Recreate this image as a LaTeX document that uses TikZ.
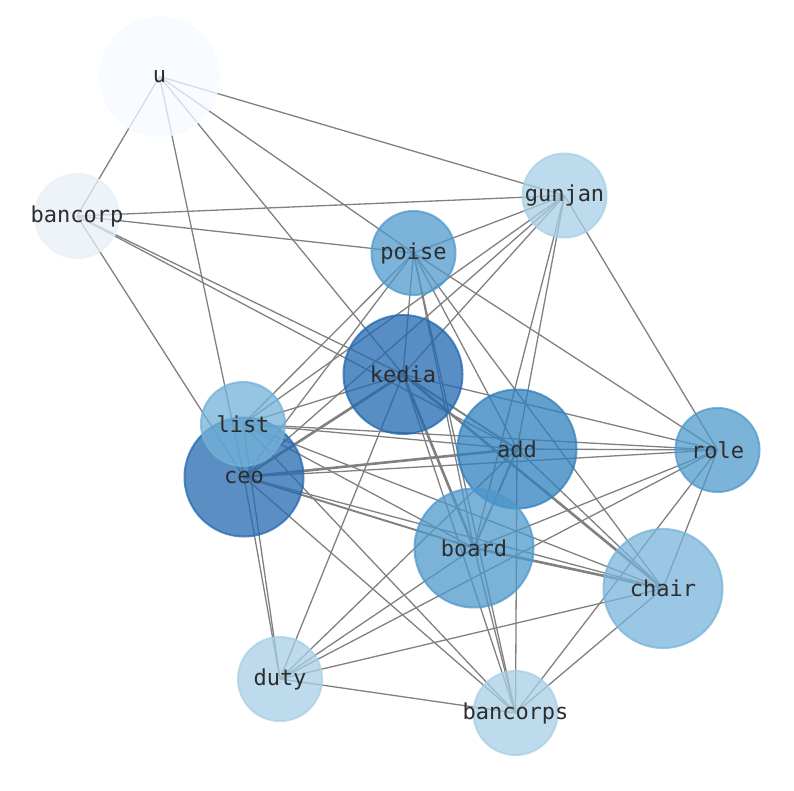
\documentclass[tikz,border=0pt]{standalone}
\usepackage{fontspec}
\setmonofont{DejaVu Sans Mono}
\definecolor{cU}{RGB}{246,250,255}
\definecolor{cBancorp}{RGB}{232,239,248}
\definecolor{cLight}{RGB}{167,207,229}
\definecolor{cList}{RGB}{115,178,216}
\definecolor{cChair}{RGB}{120,180,217}
\definecolor{cPoise}{RGB}{80,153,204}
\definecolor{cBoard}{RGB}{78,152,203}
\definecolor{cAdd}{RGB}{48,128,190}
\definecolor{cKedia}{RGB}{33,104,176}
\definecolor{cCeo}{RGB}{36,106,176}
\definecolor{edgegray}{RGB}{128,128,128}
\definecolor{labelgray}{RGB}{45,45,45}
\newcommand{\zlabel}[1]{\makebox[0pt]{#1}}
\begin{document}
\begin{tikzpicture}[x=1pt,y=-1pt,
  vertex/.style={circle,inner sep=0pt,line width=2pt,fill opacity=0.75,draw opacity=0.75,
    text opacity=1,text=labelgray,font=\ttfamily\fontsize{22}{26}\selectfont},
  big/.style={vertex,minimum size=119pt},
  small/.style={vertex,minimum size=84pt},
  link/.style={draw=edgegray,line width=1.3pt},
  heavy/.style={draw=edgegray,line width=2.6pt},
  mid/.style={draw=edgegray,line width=1.9pt}]
\useasboundingbox (0,0) rectangle (794,790);
% coordinates of centres
\coordinate (pu) at (159.5,76.5);
\coordinate (pbancorp) at (77,216);
\coordinate (pgunjan) at (564.5,195.5);
\coordinate (ppoise) at (413.5,253);
\coordinate (pkedia) at (403,374.5);
\coordinate (plist) at (243,424);
\coordinate (pceo) at (244,477);
\coordinate (padd) at (517,449);
\coordinate (prole) at (717.5,450);
\coordinate (pboard) at (474,548);
\coordinate (pchair) at (663,588.5);
\coordinate (pduty) at (280,679);
\coordinate (pbancorps) at (515.5,713);
% edges
\begin{scope}
\foreach \a/\b/\s in {
 u/bancorp/link, u/ceo/link, u/kedia/link, u/poise/link, u/gunjan/link,
 bancorp/gunjan/link, bancorp/poise/link, bancorp/ceo/link, bancorp/kedia/link, bancorp/add/link,
 gunjan/poise/link, gunjan/kedia/link, gunjan/list/link, gunjan/ceo/link, gunjan/add/link, gunjan/board/link, gunjan/role/link,
 poise/kedia/link, poise/list/link, poise/ceo/link, poise/add/link, poise/board/link, poise/bancorps/link, poise/chair/link, poise/role/link,
 kedia/list/link, kedia/ceo/heavy, kedia/add/mid, kedia/role/link, kedia/chair/heavy, kedia/board/heavy, kedia/bancorps/link, kedia/duty/link,
 list/add/link, list/role/link, list/board/link, list/chair/link, list/bancorps/link, list/duty/link,
 ceo/add/heavy, ceo/role/link, ceo/board/mid, ceo/chair/link, ceo/bancorps/link, ceo/duty/link,
 add/role/link, add/board/mid, add/chair/link, add/duty/link, add/bancorps/link,
 role/board/link, role/chair/link, role/duty/link, role/bancorps/link,
 board/chair/heavy, board/duty/link, board/bancorps/link,
 chair/duty/link, chair/bancorps/link,
 duty/bancorps/link}
 {\path[\s] (p\a) -- (p\b);}
\end{scope}
% nodes
\node[big,fill=cU,draw=cU] (u) at (pu) {\zlabel{u}};
\node[small,fill=cBancorp,draw=cBancorp] (bancorp) at (pbancorp) {\zlabel{bancorp}};
\node[small,fill=cLight,draw=cLight] (gunjan) at (pgunjan) {\zlabel{gunjan}};
\node[small,fill=cPoise,draw=cPoise] (poise) at (ppoise) {\zlabel{poise}};
\node[big,fill=cKedia,draw=cKedia] (kedia) at (pkedia) {\zlabel{kedia}};
\node[big,fill=cCeo,draw=cCeo] (ceo) at (pceo) {\zlabel{ceo}};
\node[small,fill=cList,draw=cList] (list) at (plist) {\zlabel{list}};
\node[big,fill=cAdd,draw=cAdd] (add) at (padd) {\zlabel{add}};
\node[small,fill=cPoise,draw=cPoise] (role) at (prole) {\zlabel{role}};
\node[big,fill=cBoard,draw=cBoard] (board) at (pboard) {\zlabel{board}};
\node[big,fill=cChair,draw=cChair] (chair) at (pchair) {\zlabel{chair}};
\node[small,fill=cLight,draw=cLight] (duty) at (pduty) {\zlabel{duty}};
\node[small,fill=cLight,draw=cLight] (bancorps) at (pbancorps) {\zlabel{bancorps}};
\end{tikzpicture}
\end{document}
